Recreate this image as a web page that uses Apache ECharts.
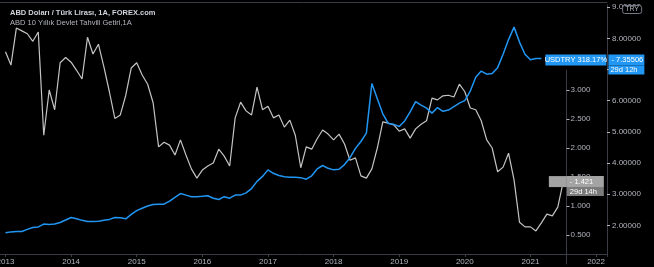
<!DOCTYPE html>
<html><head><meta charset="utf-8">
<script src="https://cdn.jsdelivr.net/npm/echarts@6/dist/echarts.min.js"></script>
<style>html,body{margin:0;padding:0;background:#000;}#c{width:654px;height:267px;}</style>
</head><body><div id="c"></div>
<script>
const yearTicks = ['2013','2014','2015','2016','2017','2018','2019','2020','2021','2022'];
const titleMain = 'ABD Doları / Türk Lirası, 1A, FOREX.com';
const titleSub = 'ABD 10 Yıllık Devlet Tahvili Getiri,1A';
const blueName = 'USDTRY 318.17%';
const blueCountdown = '29d 12h';
const grayCountdown = '29d 14h';
const currencyTag = 'TRY';

// USD/TRY monthly, Jan 2013 onward
const usdtry = [1.76,1.79,1.80,1.80,1.87,1.93,1.95,2.04,2.03,2.04,2.09,2.17,
 2.25,2.21,2.16,2.12,2.12,2.13,2.16,2.19,2.25,2.24,2.21,2.35,
 2.47,2.55,2.62,2.67,2.68,2.68,2.78,2.90,3.02,2.97,2.92,2.92,
 2.93,2.95,2.87,2.83,2.92,2.87,2.97,2.97,3.04,3.18,3.41,3.57,
 3.78,3.67,3.60,3.56,3.54,3.54,3.53,3.48,3.59,3.81,3.92,3.83,
 3.78,3.80,3.95,4.17,4.47,4.69,4.96,6.55,6.06,5.58,5.27,5.24,
 5.17,5.35,5.64,5.97,5.86,5.76,5.60,5.78,5.66,5.70,5.81,5.92,
 6.00,6.31,6.75,6.95,6.85,6.87,7.06,7.49,7.96,8.36,7.88,7.49,
 7.31,7.35,7.35506];
// US 10Y yield overlay, monthly, Jan 2013 onward
const us10y = [3.66,3.43,4.07,4.02,3.97,3.84,4.00,2.22,3.00,2.66,3.47,3.56,
 3.48,3.34,3.19,3.91,3.62,3.79,3.40,2.97,2.51,2.57,2.91,3.38,
 3.47,3.26,3.10,2.78,2.02,2.10,2.05,1.88,2.14,1.88,1.64,1.48,
 1.62,1.69,1.74,1.98,1.86,1.69,2.52,2.79,2.64,2.57,3.05,2.66,
 2.72,2.52,2.57,2.36,2.48,2.22,1.66,2.02,1.98,2.16,2.31,2.24,
 2.14,2.24,2.07,1.79,1.83,1.52,1.48,1.64,2.00,2.45,2.43,2.40,
 2.29,2.33,2.17,2.33,2.41,2.47,2.86,2.83,2.90,2.91,2.88,3.10,
 2.97,2.69,2.66,2.47,2.14,2.00,1.59,1.67,1.91,1.45,0.72,0.64,
 0.64,0.57,0.71,0.86,0.83,0.98,1.421];

const categories = [];
for (let k = 0; k < 112; k++) {
  const t = 2012 * 12 + 11 + k;
  categories.push(Math.floor(t / 12) + '-' + String(t % 12 + 1).padStart(2, '0'));
}
const isYearStart = (i, v) => v.slice(5) === '01' && yearTicks.includes(v.slice(0, 4));

const FONT = 'Liberation Sans';
const AX = '#3a3d45';
const LBL = '#b2b5be';

const chart = echarts.init(document.getElementById('c'), null, {renderer: 'canvas'});
chart.setOption({
  backgroundColor: '#000',
  animation: false,
  textStyle: {fontFamily: FONT},
  title: [
    {text: titleMain, left: 10, top: 9, padding: 0,
     textStyle: {fontSize: 7.5, fontWeight: 'bold', color: '#d1d4dc', fontFamily: FONT}},
    {text: titleSub, left: 10, top: 19, padding: 0,
     textStyle: {fontSize: 7.5, fontWeight: 'normal', color: '#b2b5be', fontFamily: FONT}},
    {text: currencyTag, right: 12, top: 5, padding: [1, 3], borderColor: '#787b86', borderWidth: 1,
     borderRadius: 2, backgroundColor: '#000', z: 50, zlevel: 1,
     textStyle: {fontSize: 7, fontWeight: 'normal', color: '#b2b5be', fontFamily: FONT}}
  ],
  grid: [
    {left: 0, right: 47, top: 5, bottom: 10.5, containLabel: false, outerBoundsMode: 'none'},
    {left: 0, right: 47, top: 70, bottom: 3, containLabel: false, outerBoundsMode: 'none'}
  ],
  xAxis: [
    {type: 'category', gridIndex: 0, data: categories, boundaryGap: false, offset: -2.5,
     axisLine: {show: true, lineStyle: {color: AX}},
     axisTick: {show: true, length: 3, interval: isYearStart, lineStyle: {color: AX}},
     axisLabel: {interval: isYearStart, formatter: v => v.slice(0, 4), color: LBL, fontSize: 8, margin: 4, fontFamily: FONT},
     splitLine: {show: false}},
    {type: 'category', gridIndex: 1, data: categories, boundaryGap: false, show: false},
    {type: 'category', gridIndex: 0, data: categories, boundaryGap: false, position: 'top', offset: 3,
     axisLine: {show: true, lineStyle: {color: AX}}, axisTick: {show: false}, axisLabel: {show: false}}
  ],
  yAxis: [
    {type: 'value', gridIndex: 0, position: 'right', min: 1, max: 9.07, interval: 1,
     axisLine: {show: true, lineStyle: {color: AX}},
     axisTick: {show: true, length: 3, lineStyle: {color: LBL}},
     axisLabel: {showMinLabel: false, formatter: v => v.toFixed(5), color: LBL, fontSize: 8, margin: 5, fontFamily: FONT},
     splitLine: {show: false}},
    {type: 'value', gridIndex: 1, position: 'right', offset: -40.5, min: 0, max: 3.345, interval: 0.5,
     axisLine: {show: true, lineStyle: {color: AX}},
     axisTick: {show: true, length: 3, lineStyle: {color: LBL}},
     axisLabel: {showMinLabel: false, showMaxLabel: false, formatter: v => v.toFixed(3), color: LBL, fontSize: 8, margin: 4, fontFamily: FONT},
     splitLine: {show: false}}
  ],
  series: [
    {type: 'line', name: 'US10Y', xAxisIndex: 1, yAxisIndex: 1, data: [null].concat(us10y),
     showSymbol: false, clip: false, z: 2,
     lineStyle: {color: '#c4c4c4', width: 1.2},
     endLabel: {show: true, distance: 0, offset: [-14.4, 4.5], fontFamily: FONT,
       formatter: p => `{n| }{v|- ${p.value.toFixed(3)}}\n{s| }{c|${grayCountdown}}`,
       rich: {
         n: {width: 18, height: 11, backgroundColor: '#a3a3a3'},
         v: {width: 34, height: 11, lineHeight: 11, padding: [0, 0, 0, 3], backgroundColor: '#a3a3a3', color: '#fff', fontSize: 7.5, fontFamily: FONT},
         s: {width: 18, height: 9},
         c: {width: 34, height: 9, lineHeight: 9, padding: [0, 0, 0, 3], backgroundColor: '#7b7b7b', color: '#fff', fontSize: 7.5, fontFamily: FONT}
       }}},
    {type: 'line', name: 'USDTRY', xAxisIndex: 0, yAxisIndex: 0, data: [null].concat(usdtry),
     showSymbol: false, z: 3,
     lineStyle: {color: '#2196f3', width: 1.5},
     endLabel: {show: true, distance: 4, offset: [0, 6], fontFamily: FONT,
       formatter: p => `{a|${blueName}}{g| }{b|- ${p.value.toFixed(5)}}\n{s| }{c|${blueCountdown}}`,
       rich: {
         a: {width: 61, height: 11, lineHeight: 11, align: 'center', backgroundColor: '#2196f3', color: '#fff', fontSize: 7.5, fontFamily: FONT},
         g: {width: 2, height: 11},
         b: {width: 34, height: 11, lineHeight: 11, padding: [0, 0, 0, 2], backgroundColor: '#2196f3', color: '#fff', fontSize: 7.5, fontFamily: FONT},
         s: {width: 63, height: 9},
         c: {width: 34, height: 9, lineHeight: 9, padding: [0, 0, 0, 2], backgroundColor: '#2196f3', color: '#fff', fontSize: 7.5, fontFamily: FONT}
       }}}
  ]
});
</script></body></html>
